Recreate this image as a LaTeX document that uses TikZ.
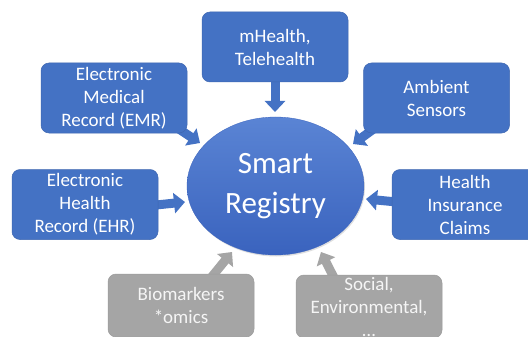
\documentclass[tikz,border=0pt]{standalone}
\usepackage{fontspec}
\setmainfont{Carlito}
\usetikzlibrary{arrows.meta,calc,shapes.geometric,shadows,backgrounds}
\definecolor{boxblue}{HTML}{4472C4}
\definecolor{boxedge}{HTML}{3E67B1}
\definecolor{boxgrey}{HTML}{A5A5A5}
\definecolor{greyedge}{HTML}{9A9A9A}
\definecolor{regtop}{HTML}{5A84D4}
\definecolor{regbot}{HTML}{3A63BE}
\tikzset{
  srcbox/.style={rectangle, rounded corners=8pt, minimum width=146pt,
    minimum height=70pt, inner sep=0pt, text=white, align=center,
    font=\fontsize{19}{23}\selectfont, fill=boxblue, draw=boxedge, line width=0.5pt},
  greybox/.style={srcbox, minimum height=63pt, fill=boxgrey, draw=greyedge, text=white!96!black},
  feed/.style={line width=9pt, color=boxblue,
    -{Triangle[width=20pt,length=11pt]}},
  greyfeed/.style={feed, color=boxgrey},
}
\begin{document}
\begin{tikzpicture}[x=1pt,y=-1pt]
\useasboundingbox (0,0) rectangle (528,337);
\clip (0,0) rectangle (528,337);

% central registry
\node[ellipse, minimum width=177pt, minimum height=138pt, inner sep=0pt,
  top color=regtop, bottom color=regbot, draw=regbot, line width=0.3pt,
  drop shadow={opacity=0.25, shadow xshift=1pt, shadow yshift=-1.5pt},
  text=white, align=center, font=\fontsize{31}{40}\selectfont]
  (reg) at (275.5,186) {Smart\\Registry};

% tip positions of the feeding arrows
\coordinate (teletip) at (275,112);
\coordinate (emrtip) at (200,143);
\coordinate (ambtip) at (353,144);
\coordinate (ehrtip) at (185,202);
\coordinate (instip) at (366,199);
\coordinate (biotip) at (232,252);
\coordinate (soctip) at (321,252);

% data sources
\node[srcbox] (tele) at (275,47) {mHealth,\\Telehealth};
\node[srcbox] (emr) at (114,98) {Electronic\\Medical\\Record (EMR)};
\node[srcbox] (amb) at (436.5,98) {Ambient\\Sensors};
\node[srcbox] (ehr) at (85,204.5) {Electronic\\Health\\Record (EHR)};
\node[srcbox] (ins) at (465,204.5) {Health\\Insurance\\Claims};
\node[greybox] (bio) at (181,305.5) {Biomarkers\\*omics};
\node[greybox] (soc) at (369,306.5) {Social,\\Environmental,\\\dots};

% arrows into the registry, tucked behind the boxes
\begin{scope}[on background layer]
\fill[white] (0,0) rectangle (528,337);
\draw[feed] ($(tele.south)+(0,-4)$) -- (teletip);
\draw[feed] ($(emr.south east)+(-8,-4)$) -- (emrtip);
\draw[feed] ($(amb.south west)+(10,-4)$) -- (ambtip);
\draw[feed] ($(ehr.east)+(-5,0.8)$) -- (ehrtip);
\draw[feed] ($(ins.west)+(5,-2.5)$) -- (instip);
\draw[greyfeed] ($(bio.north)+(30,4)$) -- (biotip);
\draw[greyfeed] ($(soc.north)+(-34,5)$) -- (soctip);
\end{scope}
\end{tikzpicture}
\end{document}
